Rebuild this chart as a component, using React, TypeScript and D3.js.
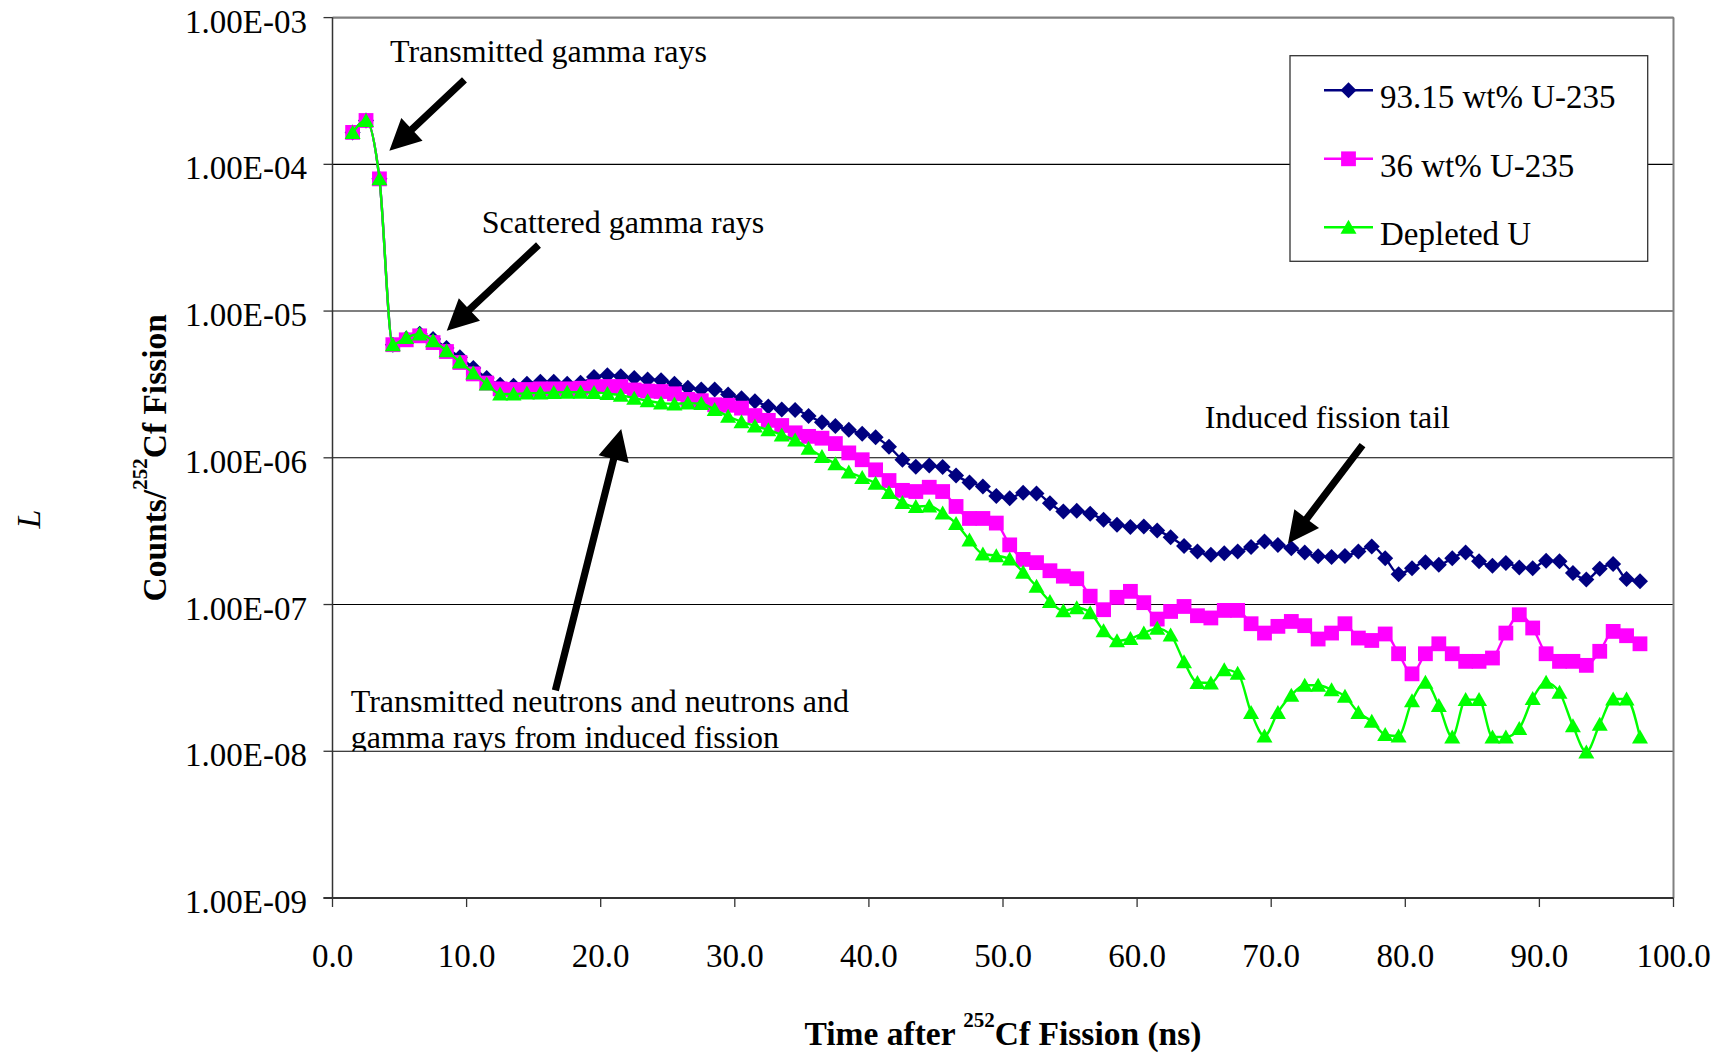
import React from 'react';
import * as d3 from 'd3';

// ---- data (time bins in ns, counts per 252Cf fission) ----
const times = [
  1.5, 2.5, 3.5, 4.5, 5.5, 6.5, 7.5, 8.5, 9.5, 10.5,
  11.5, 12.5, 13.5, 14.5, 15.5, 16.5, 17.5, 18.5, 19.5, 20.5,
  21.5, 22.5, 23.5, 24.5, 25.5, 26.5, 27.5, 28.5, 29.5, 30.5,
  31.5, 32.5, 33.5, 34.5, 35.5, 36.5, 37.5, 38.5, 39.5, 40.5,
  41.5, 42.5, 43.5, 44.5, 45.5, 46.5, 47.5, 48.5, 49.5, 50.5,
  51.5, 52.5, 53.5, 54.5, 55.5, 56.5, 57.5, 58.5, 59.5, 60.5,
  61.5, 62.5, 63.5, 64.5, 65.5, 66.5, 67.5, 68.5, 69.5, 70.5,
  71.5, 72.5, 73.5, 74.5, 75.5, 76.5, 77.5, 78.5, 79.5, 80.5,
  81.5, 82.5, 83.5, 84.5, 85.5, 86.5, 87.5, 88.5, 89.5, 90.5,
  91.5, 92.5, 93.5, 94.5, 95.5, 96.5, 97.5,
];

const u93 = [
  1.65e-4, 1.99e-4, 7.96e-5, 5.9e-6, 6.5e-6, 7.0e-6, 6.45e-6, 5.6e-6, 4.85e-6, 4.1e-6,
  3.5e-6, 3.15e-6, 3.1e-6, 3.2e-6, 3.3e-6, 3.3e-6, 3.2e-6, 3.25e-6, 3.55e-6, 3.65e-6,
  3.6e-6, 3.5e-6, 3.42e-6, 3.38e-6, 3.2e-6, 3.0e-6, 2.92e-6, 2.92e-6, 2.7e-6, 2.55e-6,
  2.43e-6, 2.24e-6, 2.13e-6, 2.12e-6, 1.93e-6, 1.75e-6, 1.65e-6, 1.55e-6, 1.46e-6, 1.38e-6,
  1.19e-6, 9.7e-7, 8.7e-7, 8.85e-7, 8.64e-7, 7.56e-7, 6.8e-7, 6.37e-7, 5.5e-7, 5.31e-7,
  5.77e-7, 5.72e-7, 4.91e-7, 4.31e-7, 4.35e-7, 4.16e-7, 3.79e-7, 3.5e-7, 3.37e-7, 3.4e-7,
  3.2e-7, 2.88e-7, 2.51e-7, 2.3e-7, 2.18e-7, 2.24e-7, 2.3e-7, 2.47e-7, 2.69e-7, 2.55e-7,
  2.42e-7, 2.26e-7, 2.13e-7, 2.11e-7, 2.14e-7, 2.3e-7, 2.49e-7, 2.07e-7, 1.61e-7, 1.77e-7,
  1.94e-7, 1.87e-7, 2.07e-7, 2.26e-7, 1.97e-7, 1.84e-7, 1.92e-7, 1.79e-7, 1.77e-7, 1.99e-7,
  1.97e-7, 1.64e-7, 1.48e-7, 1.75e-7, 1.89e-7, 1.49e-7, 1.44e-7,
];

const u36 = [
  1.65e-4, 1.99e-4, 7.96e-5, 5.9e-6, 6.37e-6, 6.78e-6, 6.1e-6, 5.3e-6, 4.46e-6, 3.73e-6,
  3.23e-6, 2.95e-6, 2.92e-6, 2.92e-6, 2.95e-6, 2.95e-6, 2.95e-6, 2.98e-6, 3.05e-6, 3.06e-6,
  3.06e-6, 2.9e-6, 2.85e-6, 2.83e-6, 2.73e-6, 2.5e-6, 2.45e-6, 2.3e-6, 2.28e-6, 2.18e-6,
  1.94e-6, 1.8e-6, 1.66e-6, 1.48e-6, 1.4e-6, 1.36e-6, 1.25e-6, 1.08e-6, 9.7e-7, 8.28e-7,
  7.0e-7, 6.0e-7, 5.89e-7, 6.3e-7, 5.89e-7, 4.66e-7, 3.86e-7, 3.86e-7, 3.59e-7, 2.55e-7,
  2.03e-7, 1.93e-7, 1.7e-7, 1.56e-7, 1.5e-7, 1.14e-7, 9.22e-8, 1.12e-7, 1.23e-7, 1.03e-7,
  7.96e-8, 8.97e-8, 9.7e-8, 8.39e-8, 8.1e-8, 9.12e-8, 9.12e-8, 7.4e-8, 6.39e-8, 7.1e-8,
  7.67e-8, 7.18e-8, 5.82e-8, 6.39e-8, 7.4e-8, 5.91e-8, 5.69e-8, 6.3e-8, 4.62e-8, 3.37e-8,
  4.62e-8, 5.4e-8, 4.62e-8, 4.1e-8, 4.1e-8, 4.32e-8, 6.39e-8, 8.52e-8, 6.92e-8, 4.62e-8,
  4.1e-8, 4.1e-8, 3.85e-8, 4.8e-8, 6.56e-8, 6.13e-8, 5.4e-8,
];

const du = [
  1.65e-4, 1.99e-4, 7.96e-5, 5.9e-6, 6.6e-6, 6.97e-6, 6.27e-6, 5.36e-6, 4.5e-6, 3.78e-6,
  3.18e-6, 2.72e-6, 2.72e-6, 2.76e-6, 2.76e-6, 2.79e-6, 2.8e-6, 2.8e-6, 2.79e-6, 2.74e-6,
  2.67e-6, 2.55e-6, 2.45e-6, 2.36e-6, 2.33e-6, 2.36e-6, 2.34e-6, 2.13e-6, 1.92e-6, 1.76e-6,
  1.65e-6, 1.55e-6, 1.43e-6, 1.32e-6, 1.16e-6, 1.02e-6, 9.1e-7, 8.0e-7, 7.35e-7, 6.7e-7,
  5.81e-7, 4.96e-7, 4.65e-7, 4.7e-7, 4.2e-7, 3.56e-7, 2.75e-7, 2.21e-7, 2.15e-7, 2.04e-7,
  1.66e-7, 1.33e-7, 1.05e-7, 9.07e-8, 9.5e-8, 8.8e-8, 6.63e-8, 5.66e-8, 5.87e-8, 6.39e-8,
  6.88e-8, 6.2e-8, 4.07e-8, 2.94e-8, 2.92e-8, 3.6e-8, 3.4e-8, 1.84e-8, 1.27e-8, 1.84e-8,
  2.41e-8, 2.82e-8, 2.82e-8, 2.63e-8, 2.37e-8, 1.84e-8, 1.6e-8, 1.3e-8, 1.27e-8, 2.21e-8,
  2.95e-8, 2.05e-8, 1.25e-8, 2.25e-8, 2.25e-8, 1.25e-8, 1.25e-8, 1.43e-8, 2.29e-8, 2.95e-8,
  2.52e-8, 1.49e-8, 9.9e-9, 1.53e-8, 2.27e-8, 2.27e-8, 1.25e-8,
];

const seriesNames = ['93.15 wt% U-235', '36 wt% U-235', 'Depleted U'];
const seriesColors = ['#000080', '#FF00FF', '#00FF00'];
const seriesMarkers = ['diamond', 'square', 'triangle'];

const yTicks = [1e-3, 1e-4, 1e-5, 1e-6, 1e-7, 1e-8, 1e-9];
const xTicks = [0, 10, 20, 30, 40, 50, 60, 70, 80, 90, 100];

// annotations in data coordinates [time, value]
const arrows = [
  { from: [9.84, 3.76e-4], to: [4.24, 1.24e-4] },
  { from: [15.36, 2.82e-5], to: [8.52, 7.35e-6] },
  { from: [76.81, 1.22e-6], to: [71.25, 2.61e-7] },
  { from: [16.62, 2.6e-8], to: [21.53, 1.57e-6] },
];
const labels = [
  { text: 'Transmitted gamma rays', t: 4.29, v: 5.0e-4 },
  { text: 'Scattered gamma rays', t: 11.13, v: 3.39e-5 },
  { text: 'Induced fission tail', t: 65.04, v: 1.6e-6 },
];
const noteLines = ['Transmitted neutrons and neutrons and', 'gamma rays from induced fission'];
const noteT = 1.36;
const noteV = [1.86e-8, 1.05e-8];

const W = 1724;
const H = 1055;
const PL = 332.5, PR = 1673.5, PT = 17.6, PB = 898;
const SERIF = "'Liberation Serif', 'Times New Roman', Times, serif";

function markerPath(kind: string, cx: number, cy: number): string {
  if (kind === 'diamond') {
    const r = 8;
    return `M${cx},${cy - r}L${cx + r},${cy}L${cx},${cy + r}L${cx - r},${cy}Z`;
  }
  if (kind === 'square') {
    const h = 7.4;
    return `M${cx - h},${cy - h}L${cx + h},${cy - h}L${cx + h},${cy + h}L${cx - h},${cy + h}Z`;
  }
  return `M${cx},${cy - 7.5}L${cx + 8},${cy + 6.5}L${cx - 8},${cy + 6.5}Z`;
}

function arrowPath(x1: number, y1: number, x2: number, y2: number): string {
  const dx = x2 - x1, dy = y2 - y1;
  const len = Math.hypot(dx, dy);
  const ux = dx / len, uy = dy / len;
  const nx = -uy, ny = ux;
  const sw = 3.6, hl = 31, hw = 15.5;
  const bx = x2 - ux * hl, by = y2 - uy * hl;
  const pts = [
    [x1 + nx * sw, y1 + ny * sw],
    [bx + nx * sw, by + ny * sw],
    [bx + nx * hw, by + ny * hw],
    [x2, y2],
    [bx - nx * hw, by - ny * hw],
    [bx - nx * sw, by - ny * sw],
    [x1 - nx * sw, y1 - ny * sw],
  ];
  return 'M' + pts.map((p) => p.join(',')).join('L') + 'Z';
}

export default function App() {
  const x = d3.scaleLinear().domain([0, 100]).range([PL, PR]);
  const y = d3.scaleLog().domain([1e-9, 1e-3]).range([PB, PT]);
  const series = [u93, u36, du];

  const line = d3
    .line<number>()
    .x((_, i) => x(times[i]))
    .y((d) => y(d))
    .curve(d3.curveMonotoneX);

  const fmtY = (v: number) => {
    const e = Math.round(Math.log10(v));
    return `1.00E-${String(-e).padStart(2, '0')}`;
  };
  const fmtX = d3.format('.1f');

  const legendX = 1290, legendY = 55.7, legendW = 357.7, legendH = 205.6;
  const clipBottom = y(1e-8);

  return (
    <svg
      width={W}
      height={H}
      style={{ position: 'absolute', left: 0, top: 0, display: 'block', background: '#fff' }}
      fontFamily={SERIF}
    >
      <defs>
        <clipPath id="noteClip">
          <rect x={0} y={0} width={W} height={clipBottom} />
        </clipPath>
      </defs>
      <rect x={0} y={0} width={W} height={H} fill="#fff" />

      {/* gridlines */}
      {yTicks.map((t) => (
        <line key={'g' + t} x1={PL} x2={PR} y1={y(t)} y2={y(t)} stroke="#000" strokeWidth={1.1} />
      ))}
      {/* plot border */}
      <line x1={PR} x2={PR} y1={PT} y2={PB} stroke="#808080" strokeWidth={2} />
      <line x1={PL} x2={PR} y1={PT} y2={PT} stroke="#808080" strokeWidth={2} />

      {/* axes */}
      <line x1={PL} x2={PL} y1={PT} y2={PB} stroke="#333" strokeWidth={1.5} />
      <line x1={PL - 9} x2={PR} y1={PB} y2={PB} stroke="#333" strokeWidth={2} />
      {yTicks.map((t) => (
        <g key={'yt' + t}>
          <line x1={PL - 9} x2={PL} y1={y(t)} y2={y(t)} stroke="#333" strokeWidth={1.3} />
          <text x={307} y={y(t) + 15} textAnchor="end" fontSize={33} fill="#000">
            {fmtY(t)}
          </text>
        </g>
      ))}
      {xTicks.map((t) => (
        <g key={'xt' + t}>
          <line x1={x(t)} x2={x(t)} y1={PB} y2={PB + 9} stroke="#333" strokeWidth={1.3} />
          <text x={x(t)} y={967} textAnchor="middle" fontSize={33} fill="#000">
            {fmtX(t)}
          </text>
        </g>
      ))}

      {/* legend */}
      <rect x={legendX} y={legendY} width={legendW} height={legendH} fill="#fff" stroke="#333" strokeWidth={1.3} />
      {seriesNames.map((name, i) => {
        const ly = 90.3 + i * 68.5;
        return (
          <g key={'lg' + i}>
            <line x1={1324} x2={1373} y1={ly} y2={ly} stroke={seriesColors[i]} strokeWidth={2.4} />
            <path d={markerPath(seriesMarkers[i], 1348.5, ly)} fill={seriesColors[i]} />
            <text x={1380} y={ly + 18} fontSize={33} fill="#000">
              {name}
            </text>
          </g>
        );
      })}

      {/* series */}
      {series.map((vals, si) => (
        <g key={'s' + si}>
          <path d={line(vals) || ''} fill="none" stroke={seriesColors[si]} strokeWidth={2.4} />
          {vals.map((v, i) => (
            <path key={i} d={markerPath(seriesMarkers[si], x(times[i]), y(v))} fill={seriesColors[si]} />
          ))}
        </g>
      ))}

      {/* annotations */}
      {arrows.map((a, i) => (
        <path
          key={'ar' + i}
          d={arrowPath(x(a.from[0]), y(a.from[1]), x(a.to[0]), y(a.to[1]))}
          fill="#000"
        />
      ))}
      {labels.map((l, i) => (
        <text key={'lb' + i} x={x(l.t)} y={y(l.v)} fontSize={32} fill="#000">
          {l.text}
        </text>
      ))}
      <g clipPath="url(#noteClip)">
        {noteLines.map((s, i) => (
          <text key={'nl' + i} x={x(noteT)} y={y(noteV[i])} fontSize={32} fill="#000">
            {s}
          </text>
        ))}
      </g>

      {/* axis titles */}
      <text x={(PL + PR) / 2} y={1045} textAnchor="middle" fontSize={33.5} fontWeight="bold" fill="#000">
        Time after{' '}
        <tspan fontSize={21} dy={-18}>
          252
        </tspan>
        <tspan dy={18}>Cf Fission (ns)</tspan>
      </text>
      <text
        transform={`translate(166, ${(PT + PB) / 2}) rotate(-90)`}
        textAnchor="middle"
        fontSize={33.5}
        fontWeight="bold"
        fill="#000"
      >
        Counts/
        <tspan fontSize={21} dy={-19}>
          252
        </tspan>
        <tspan dy={19}>Cf Fission</tspan>
      </text>
      <text
        transform="translate(40, 519) rotate(-90)"
        textAnchor="middle"
        fontSize={34}
        fontStyle="italic"
        fill="#000"
      >
        L
      </text>
    </svg>
  );
}
